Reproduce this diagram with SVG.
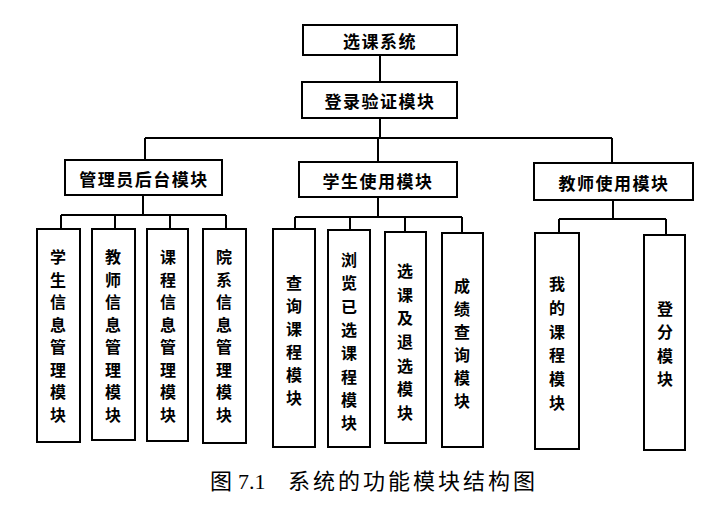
<svg xmlns="http://www.w3.org/2000/svg" width="720" height="517" viewBox="0 0 720 517">
<style>
g rect{fill:#fff;stroke:#000;stroke-width:2}
.c path{fill:none;stroke:#000;stroke-width:2}
text{font-family:"Noto Sans CJK SC","Noto Sans",sans-serif;font-weight:bold;fill:#000;text-anchor:middle;dominant-baseline:central}
.h{font-size:17px;letter-spacing:1.5px}
.v{font-size:16px}
.cap{font-family:"Liberation Serif","Noto Sans CJK SC",serif;font-weight:normal;font-size:22px;text-anchor:start;dominant-baseline:alphabetic}
</style>
<rect width="720" height="517" fill="#fff"/>
<g class="c" id="connectors">
<path d="M380 55V82"/>
<path d="M380 118V138M145 138H612M145 138V160M378 138V162M612 138V163"/>
<path d="M143 195V215M61 215H226M61 215V229M115 215V229M170 215V229M226 215V229"/>
<path d="M378 197V217M295 217H462M295 217V229M350 217V230M405 217V232M462 217V233"/>
<path d="M613 200V219M559 219H666M559 219V233M666 219V235"/>
</g>
<g id="root"><rect x="303" y="25" width="154" height="30"/><text class="h" x="380" y="40">选课系统</text></g>
<g id="login"><rect x="302" y="82" width="155" height="36"/><text class="h" x="380" y="100">登录验证模块</text></g>
<g id="admin"><rect x="65" y="160" width="157" height="35"/><text class="h" x="144" y="178">管理员后台模块</text></g>
<g id="student"><rect x="299" y="162" width="158" height="35"/><text class="h" x="378" y="180">学生使用模块</text></g>
<g id="teacher"><rect x="534" y="163" width="159" height="37"/><text class="h" x="614" y="182">教师使用模块</text></g>
<g id="n1"><rect x="37" y="229" width="43" height="213"/><text class="v"><tspan x="58" y="256">学</tspan><tspan x="58" y="278.5">生</tspan><tspan x="58" y="301">信</tspan><tspan x="58" y="323.5">息</tspan><tspan x="58" y="346">管</tspan><tspan x="58" y="368.5">理</tspan><tspan x="58" y="391">模</tspan><tspan x="58" y="413.5">块</tspan></text></g>
<g id="n2"><rect x="92" y="229" width="43" height="211"/><text class="v"><tspan x="113" y="256">教</tspan><tspan x="113" y="278.5">师</tspan><tspan x="113" y="301">信</tspan><tspan x="113" y="323.5">息</tspan><tspan x="113" y="346">管</tspan><tspan x="113" y="368.5">理</tspan><tspan x="113" y="391">模</tspan><tspan x="113" y="413.5">块</tspan></text></g>
<g id="n3"><rect x="147" y="229" width="41" height="212"/><text class="v"><tspan x="168" y="256">课</tspan><tspan x="168" y="278.5">程</tspan><tspan x="168" y="301">信</tspan><tspan x="168" y="323.5">息</tspan><tspan x="168" y="346">管</tspan><tspan x="168" y="368.5">理</tspan><tspan x="168" y="391">模</tspan><tspan x="168" y="413.5">块</tspan></text></g>
<g id="n4"><rect x="203" y="229" width="43" height="214"/><text class="v"><tspan x="224" y="256">院</tspan><tspan x="224" y="278.5">系</tspan><tspan x="224" y="301">信</tspan><tspan x="224" y="323.5">息</tspan><tspan x="224" y="346">管</tspan><tspan x="224" y="368.5">理</tspan><tspan x="224" y="391">模</tspan><tspan x="224" y="413.5">块</tspan></text></g>
<g id="n5"><rect x="273" y="229" width="42" height="218"/><text class="v"><tspan x="294" y="282">查</tspan><tspan x="294" y="305">询</tspan><tspan x="294" y="328">课</tspan><tspan x="294" y="351">程</tspan><tspan x="294" y="374">模</tspan><tspan x="294" y="397">块</tspan></text></g>
<g id="n6"><rect x="328" y="230" width="42" height="217"/><text class="v"><tspan x="349" y="259">浏</tspan><tspan x="349" y="282.3">览</tspan><tspan x="349" y="305.6">已</tspan><tspan x="349" y="328.9">选</tspan><tspan x="349" y="352.2">课</tspan><tspan x="349" y="375.5">程</tspan><tspan x="349" y="398.8">模</tspan><tspan x="349" y="422">块</tspan></text></g>
<g id="n7"><rect x="385" y="232" width="41" height="211"/><text class="v"><tspan x="405" y="270">选</tspan><tspan x="405" y="293.7">课</tspan><tspan x="405" y="317.4">及</tspan><tspan x="405" y="341">退</tspan><tspan x="405" y="364.7">选</tspan><tspan x="405" y="388.4">模</tspan><tspan x="405" y="412">块</tspan></text></g>
<g id="n8"><rect x="442" y="233" width="41" height="214"/><text class="v"><tspan x="462" y="285">成</tspan><tspan x="462" y="308">绩</tspan><tspan x="462" y="331">查</tspan><tspan x="462" y="354">询</tspan><tspan x="462" y="377">模</tspan><tspan x="462" y="400">块</tspan></text></g>
<g id="n9"><rect x="535" y="233" width="44" height="216"/><text class="v"><tspan x="557" y="283">我</tspan><tspan x="557" y="306.8">的</tspan><tspan x="557" y="330.6">课</tspan><tspan x="557" y="354.4">程</tspan><tspan x="557" y="378.2">模</tspan><tspan x="557" y="402">块</tspan></text></g>
<g id="n10"><rect x="644" y="235" width="41" height="215"/><text class="v"><tspan x="665" y="308">登</tspan><tspan x="665" y="331.3">分</tspan><tspan x="665" y="354.6">模</tspan><tspan x="665" y="378">块</tspan></text></g>
<g id="caption"><text class="cap" x="210" y="489">图</text><text class="cap" x="238" y="489">7.1</text><text class="cap" x="288" y="489" letter-spacing="3">系统的功能模块结构图</text></g>
</svg>
